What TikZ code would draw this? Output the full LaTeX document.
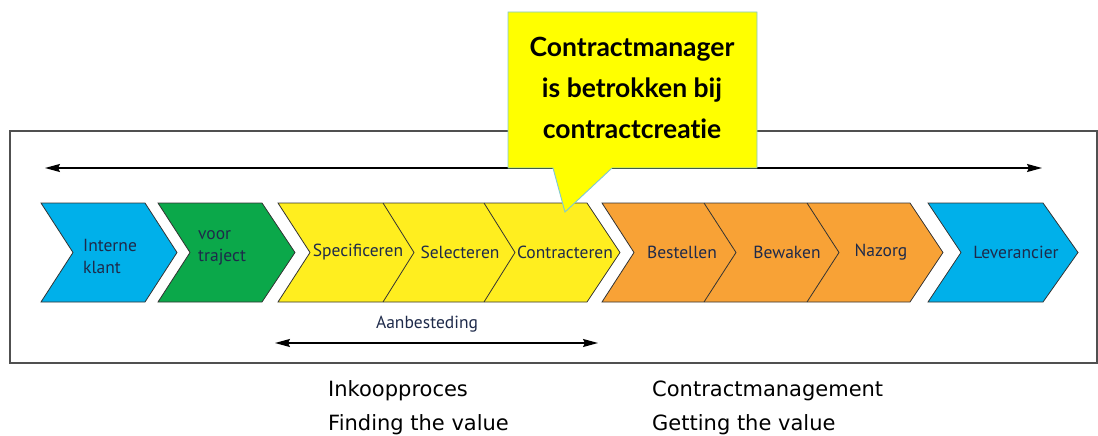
\documentclass[tikz,border=0pt]{standalone}
\usepackage{fontspec}
\setmainfont{DejaVu Sans}
\newfontfamily\chevfont{PT Sans}
\newfontfamily\callfont[Ligatures={NoCommon,NoRare}]{Lato}
\usetikzlibrary{arrows.meta}
\definecolor{cblue}{HTML}{00B0EA}
\definecolor{cgreen}{HTML}{0BA84A}
\definecolor{cyellow}{HTML}{FFEE1F}
\definecolor{corange}{HTML}{F8A236}
\definecolor{cyel2}{HTML}{FFFF00}
\definecolor{cedge}{HTML}{7FC8D4}
\definecolor{ctext}{HTML}{1E2A4A}
\definecolor{cframe}{HTML}{505050}
\tikzset{
  chev/.style={draw=black!80, line width=0.8pt, line join=miter},
  sep/.style={draw=black!80, line width=0.8pt},
  lab/.style={font=\chevfont\fontsize{17.5}{22}\selectfont, text=ctext, inner sep=0pt},
  dblarr/.style={line width=1.4pt, {Stealth[length=15pt,width=8pt,inset=2pt]}-{Stealth[length=15pt,width=8pt,inset=2pt]}},
  bottomtext/.style={font=\fontsize{21}{25}\selectfont, anchor=base west, inner sep=0pt},
  calloutbox/.style={fill=cyel2, draw=cedge, line width=0.9pt},
  callouttext/.style={font=\callfont\bfseries\fontsize{26.5}{41}\selectfont, align=center, inner sep=0pt},
}
\begin{document}
\begin{tikzpicture}[x=1pt,y=-1pt]
\useasboundingbox (0,0) rectangle (1098,436);
% outer frame
\draw[cframe, line width=1.2pt] (10,131) rectangle (1097,363);
% chevrons
\path[chev, fill=cblue] (41,203)--(145,203)--(177,252.5)--(145,302)--(41,302)--(73,252.5)--cycle;
\path[chev, fill=cgreen] (158,203)--(262,203)--(295,252.5)--(262,302)--(158,302)--(190,252.5)--cycle;
\path[chev, fill=cyellow] (278,203)--(587,203)--(620,252.5)--(587,302)--(278,302)--(310,252.5)--cycle;
\path[sep] (383,203)--(414,252.5)--(383,302);
\path[sep] (484,203)--(515,252.5)--(484,302);
\path[chev, fill=corange] (602,203)--(910,203)--(943,252.5)--(910,302)--(602,302)--(634,252.5)--cycle;
\path[sep] (704,203)--(736,252.5)--(704,302);
\path[sep] (807,203)--(839,252.5)--(807,302);
\path[chev, fill=cblue] (928,203)--(1043,203)--(1078,252.5)--(1043,302)--(928,302)--(961,252.5)--cycle;
% labels
\node[lab, align=left, anchor=west] (interne) at (83,256) {Interne\\klant};
\node[lab, align=left, anchor=west] (voor) at (198,248) {voor\\traject};
\node[lab] (spec) at (358,252) {Specificeren};
\node[lab] (sel) at (460,252) {Selecteren};
\node[lab] (con) at (565,252) {Contracteren};
\node[lab] (best) at (682,252) {Bestellen};
\node[lab] (bew) at (787,252) {Bewaken};
\node[lab] (naz) at (881,252) {Nazorg};
\node[lab] (lev) at (1016,252) {Leverancier};
% top arrow
\coordinate (tl) at (45,168);
\coordinate (tr) at (1042,168);
\draw[dblarr] (tl) -- (tr);
% aanbesteding
\node[lab] (aan) at (427,324) {Aanbesteding};
\coordinate (al) at (275,343);
\coordinate (ar) at (598,343);
\draw[dblarr] (al) -- (ar);
% callout
\path[calloutbox] (508,12)--(757,12)--(757,168)--(612,168)--(565,212)--(553,168)--(508,168)--cycle;
\node[callouttext] (call) at (632,88) {Contractmanager\\is betrokken bij\\contractcreatie};
% bottom texts
\node[bottomtext] (ink) at (328,396) {Inkoopproces};
\node[bottomtext] (find) at (328,430) {Finding the value};
\node[bottomtext] (cm) at (652,396) {Contractmanagement};
\node[bottomtext] (get) at (652,430) {Getting the value};
\end{tikzpicture}
\end{document}
